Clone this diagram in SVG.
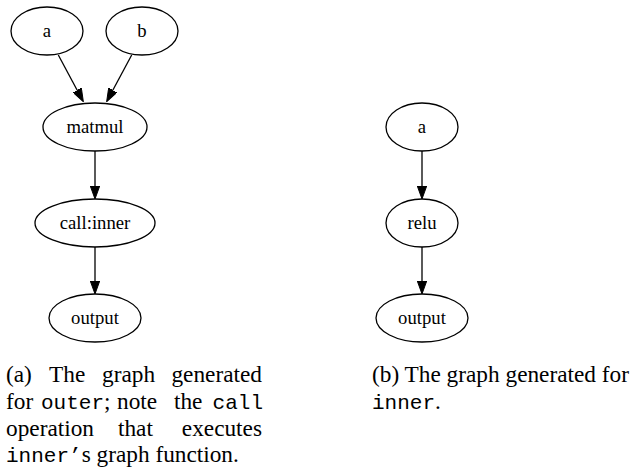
<svg xmlns="http://www.w3.org/2000/svg" width="631" height="467" viewBox="0 0 631 467">
<style>
.node ellipse{fill:none;stroke:#000;stroke-width:1.3}
.node text{font-family:'Liberation Serif','Times New Roman',serif;font-size:18.7px;text-anchor:middle;fill:#000}
.edges path{fill:none;stroke:#000;stroke-width:1.3}
.cap{font-family:'Liberation Serif','Times New Roman',serif;font-size:23.3px;fill:#000}
.mono{font-family:'Liberation Mono','Courier New',monospace;font-size:21px}
</style>
<defs>
<marker id="arr" markerUnits="userSpaceOnUse" viewBox="0 0 13 9.4" refX="0" refY="4.7" markerWidth="13" markerHeight="9.4" orient="auto">
<path d="M0,0 L13,4.7 L0,9.4 z" fill="#000" stroke="#000" stroke-width="1"/>
</marker>
</defs>
<rect width="631" height="467" fill="#fff"/>
<g class="edges">
<path d="M58.3,55 L77.2,90.2" marker-end="url(#arr)"/>
<path d="M131.7,55 L112.8,90.2" marker-end="url(#arr)"/>
<path d="M95,151 L95,186" marker-end="url(#arr)"/>
<path d="M95,247 L95,281" marker-end="url(#arr)"/>
<path d="M422,151 L422,186" marker-end="url(#arr)"/>
<path d="M422,247 L422,281" marker-end="url(#arr)"/>
</g>
<g id="a1" class="node"><ellipse cx="47" cy="31" rx="36" ry="24"/><text x="47" y="37">a</text></g>
<g id="b1" class="node"><ellipse cx="142" cy="31" rx="36" ry="24"/><text x="142" y="37">b</text></g>
<g id="matmul" class="node"><ellipse cx="95" cy="127" rx="52" ry="24"/><text x="95" y="133">matmul</text></g>
<g id="call" class="node"><ellipse cx="95" cy="223" rx="60" ry="24"/><text x="95" y="229">call:inner</text></g>
<g id="output1" class="node"><ellipse cx="95" cy="318" rx="46" ry="24"/><text x="95" y="324">output</text></g>
<g id="a2" class="node"><ellipse cx="422" cy="127" rx="36" ry="24"/><text x="422" y="133">a</text></g>
<g id="relu" class="node"><ellipse cx="422" cy="223" rx="36" ry="24"/><text x="422" y="229">relu</text></g>
<g id="output2" class="node"><ellipse cx="422" cy="318" rx="46" ry="24"/><text x="422" y="324">output</text></g>
<g id="caption-a" class="cap">
<text y="382"><tspan x="6">(a)</tspan><tspan x="49">The</tspan><tspan x="102">graph</tspan><tspan x="262" text-anchor="end">generated</tspan></text>
<text y="409"><tspan x="6">for</tspan><tspan x="41" class="mono">outer</tspan><tspan>;</tspan><tspan x="117">note</tspan><tspan x="174">the</tspan><tspan x="263" text-anchor="end" class="mono">call</tspan></text>
<text y="436"><tspan x="6">operation</tspan><tspan x="118">that</tspan><tspan x="262" text-anchor="end">executes</tspan></text>
<text y="462"><tspan x="6" class="mono">inner’</tspan><tspan>s graph function.</tspan></text>
</g>
<g id="caption-b" class="cap">
<text y="382" x="372">(b) The graph generated for</text>
<text y="409"><tspan x="372" class="mono">inner</tspan><tspan>.</tspan></text>
</g>
</svg>
